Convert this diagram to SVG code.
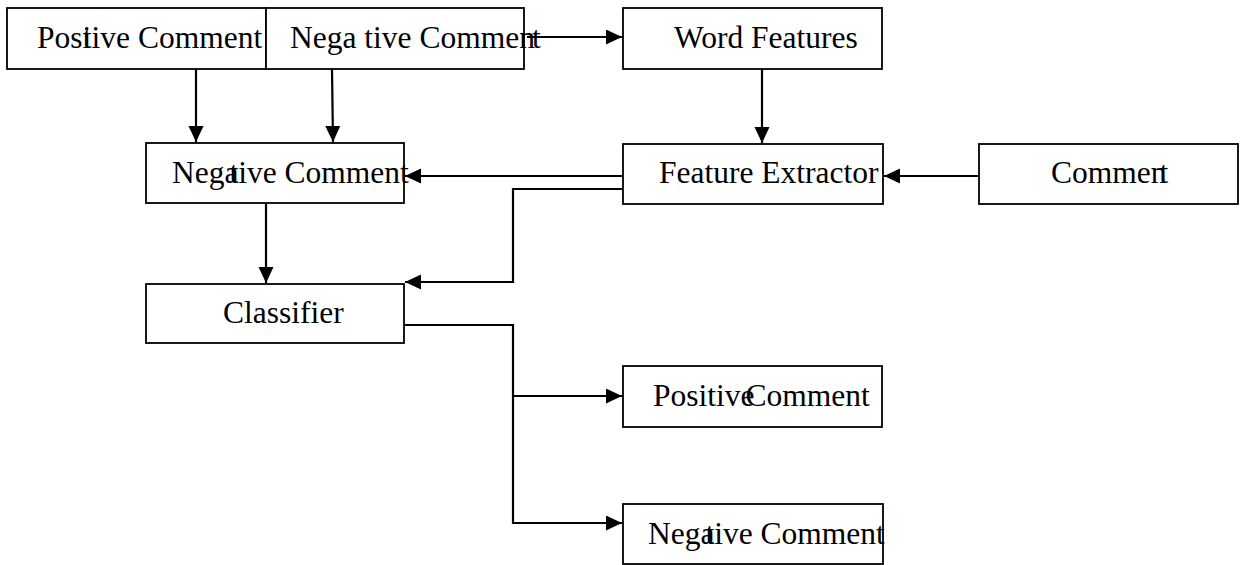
<svg xmlns="http://www.w3.org/2000/svg" width="1240" height="565" viewBox="0 0 1240 565">
<style>
  .box { fill: #ffffff; stroke: #000000; stroke-width: 1.8; }
  .lbl { font-family: "Liberation Serif", "Times New Roman", serif; font-size: 31.5px; fill: #000000; }
  .conn { fill: none; stroke: #000000; stroke-width: 2.2; }
</style>
<defs>
  <marker id="arr" markerUnits="userSpaceOnUse" markerWidth="18" markerHeight="16" refX="16" refY="7.5" orient="auto">
    <path d="M0,0 L16,7.5 L0,15 z" fill="#000000"/>
  </marker>
</defs>
<rect width="1240" height="565" fill="#ffffff"/>

<g id="n-positive-top">
  <rect class="box" x="7" y="8" width="259" height="61"/>
  <text class="lbl" x="37" y="48">Pos<tspan>i</tspan><tspan dx="-8.5">tive Comment</tspan></text>
</g>
<g id="n-negative-top">
  <rect class="box" x="266" y="8" width="258" height="61"/>
  <text class="lbl" x="290" y="48">Nega tive Comme<tspan>n</tspan><tspan dx="-3">t</tspan></text>
</g>
<g id="n-word-features">
  <rect class="box" x="623" y="8" width="259" height="61"/>
  <text class="lbl" x="674" y="48">Word Features</text>
</g>
<g id="n-negative-mid">
  <rect class="box" x="146" y="143" width="258" height="60"/>
  <text class="lbl" x="172" y="183">Neg<tspan>a</tspan><tspan dx="-9">tive Comment</tspan></text>
</g>
<g id="n-feature-extractor">
  <rect class="box" x="623" y="144" width="260" height="60"/>
  <text class="lbl" x="659" y="183">Feature Extractor</text>
</g>
<g id="n-comment">
  <rect class="box" x="979" y="144" width="259" height="60"/>
  <text class="lbl" x="1051" y="183">Comme<tspan>n</tspan><tspan dx="-7">t</tspan></text>
</g>
<g id="n-classifier">
  <rect class="box" x="146" y="284" width="258" height="59"/>
  <text class="lbl" x="223" y="323">Classifier</text>
</g>
<g id="n-positive-out">
  <rect class="box" x="623" y="366" width="259" height="61"/>
  <text class="lbl" x="653" y="406">Positive<tspan dx="-9">Comment</tspan></text>
</g>
<g id="n-negative-out">
  <rect class="box" x="623" y="504" width="260" height="60"/>
  <text class="lbl" x="648" y="544">Neg<tspan>a</tspan><tspan dx="-9">tive Comment</tspan></text>
</g>

<g id="connectors">
  <path class="conn" d="M196,69 L196,142" marker-end="url(#arr)"/>
  <path class="conn" d="M332,69 L333,142" marker-end="url(#arr)"/>
  <path class="conn" d="M527,37 L622,37" marker-end="url(#arr)"/>
  <path class="conn" d="M762,69 L762,143" marker-end="url(#arr)"/>
  <path class="conn" d="M979,176 L884,176" marker-end="url(#arr)"/>
  <path class="conn" d="M623,176 L405,176" marker-end="url(#arr)"/>
  <path class="conn" d="M623,189 L513,189 L513,282 L405,282" marker-end="url(#arr)"/>
  <path class="conn" d="M266,204 L266,283" marker-end="url(#arr)"/>
  <path class="conn" d="M404,325 L513,325 L513,523 L622,523" marker-end="url(#arr)"/>
  <path class="conn" d="M513,396 L622,396" marker-end="url(#arr)"/>
</g>
</svg>
